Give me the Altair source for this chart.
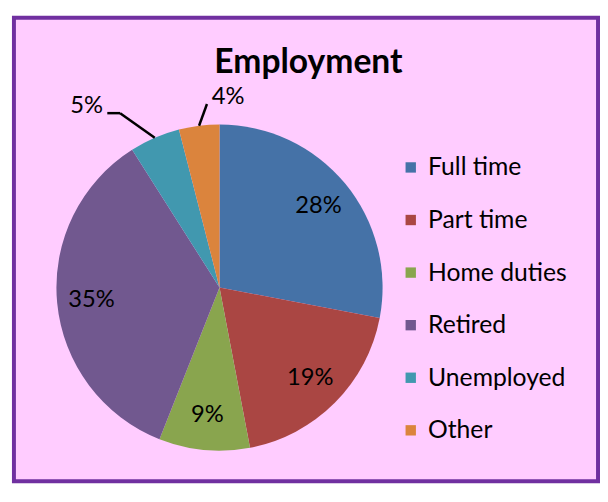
import altair as alt
import pandas as pd

categories = ["Full time", "Part time", "Home duties", "Retired", "Unemployed", "Other"]
shares = [28, 19, 9, 35, 5, 4]
labels = ["28%", "19%", "9%", "35%", "5%", "4%"]
colors = ["#4572A7", "#AA4643", "#89A54E", "#71588F", "#4198AF", "#DB843D"]
title_text = "Employment"

df = pd.DataFrame({
    "category": categories,
    "share": shares,
    "label": labels,
    "idx": list(range(len(categories))),
})

CX, CY, R = 208, 273, 165
FONT = "Lato"

base = alt.Chart(df)
theta = alt.Theta("share:Q", stack=True)
order = alt.Order("idx:Q")

pie = base.mark_arc(radius=R).encode(
    theta=theta,
    order=order,
    color=alt.Color(
        "category:N",
        scale=alt.Scale(domain=categories, range=colors),
        legend=alt.Legend(
            title=None, orient="none", legendX=389, legendY=139,
            symbolType="square", symbolSize=110, symbolStrokeWidth=0,
            labelFont=FONT, labelFontSize=25, labelColor="black",
            rowPadding=27.2, labelOffset=5, padding=0,
        ),
    ),
    x=alt.value(CX), y=alt.value(CY),
)

inner = base.transform_calculate(
    txt="datum.share >= 6 ? datum.label : ''"
).mark_text(radius=130, font=FONT, fontSize=24, color="black", baseline="middle").encode(
    theta=theta, order=order, text="txt:N", x=alt.value(CX), y=alt.value(CY)
)

out5 = base.transform_calculate(
    txt="datum.category == 'Unemployed' ? datum.label : ''"
).mark_text(radius=200, dx=-55, font=FONT, fontSize=24, color="black", baseline="middle").encode(
    theta=theta, order=order, text="txt:N", x=alt.value(CX), y=alt.value(CY)
)

out4 = base.transform_calculate(
    txt="datum.category == 'Other' ? datum.label : ''"
).mark_text(radius=194, dx=33, font=FONT, fontSize=24, color="black", baseline="middle").encode(
    theta=theta, order=order, text="txt:N", x=alt.value(CX), y=alt.value(CY)
)

edge = base.transform_window(
    cum="sum(share)", sort=[alt.SortField("idx")], frame=[None, 0]
).transform_joinaggregate(
    total="sum(share)"
).transform_calculate(
    mid="(datum.cum - datum.share / 2) / datum.total * 2 * PI",
    ex=f"{CX} + {R} * sin(datum.mid)",
    ey=f"{CY} - {R} * cos(datum.mid)",
)

lead5a = edge.transform_filter("datum.category == 'Unemployed'").transform_calculate(
    ex2="datum.ex - 35", ey2="datum.ey - 25"
).mark_rule(color="black", strokeWidth=2.5).encode(
    x=alt.X("ex:Q", scale=None, axis=None), y=alt.Y("ey:Q", scale=None, axis=None),
    x2="ex2:Q", y2="ey2:Q",
)
lead5b = edge.transform_filter("datum.category == 'Unemployed'").transform_calculate(
    ex1="datum.ex - 35", ex2="datum.ex - 48", ey2="datum.ey - 25"
).mark_rule(color="black", strokeWidth=2.5).encode(
    x=alt.X("ex1:Q", scale=None, axis=None), y=alt.Y("ey2:Q", scale=None, axis=None),
    x2="ex2:Q",
)
lead4 = edge.transform_filter("datum.category == 'Other'").transform_calculate(
    ex2="datum.ex + 8", ey2="datum.ey - 22"
).mark_rule(color="black", strokeWidth=2.5).encode(
    x=alt.X("ex:Q", scale=None, axis=None), y=alt.Y("ey:Q", scale=None, axis=None),
    x2="ex2:Q", y2="ey2:Q",
)

title = alt.Chart(pd.DataFrame({"t": [title_text]})).mark_text(
    font=FONT, fontSize=34, fontWeight="bold", color="black", baseline="alphabetic", align="center"
).encode(text="t:N", x=alt.value(298), y=alt.value(56))

chart = alt.layer(pie, inner, out5, out4, lead5a, lead5b, lead4, title).properties(
    width=591, height=469,
    padding={"left": 6, "top": 7, "right": 2, "bottom": 2},
    autosize=alt.AutoSizeParams(type="none"),
    background="white",
).configure_view(
    fill="#FFCCFF", stroke="#7030A0", strokeWidth=4
)

chart.save("out.html", embed_options={"renderer": "svg", "actions": False})
